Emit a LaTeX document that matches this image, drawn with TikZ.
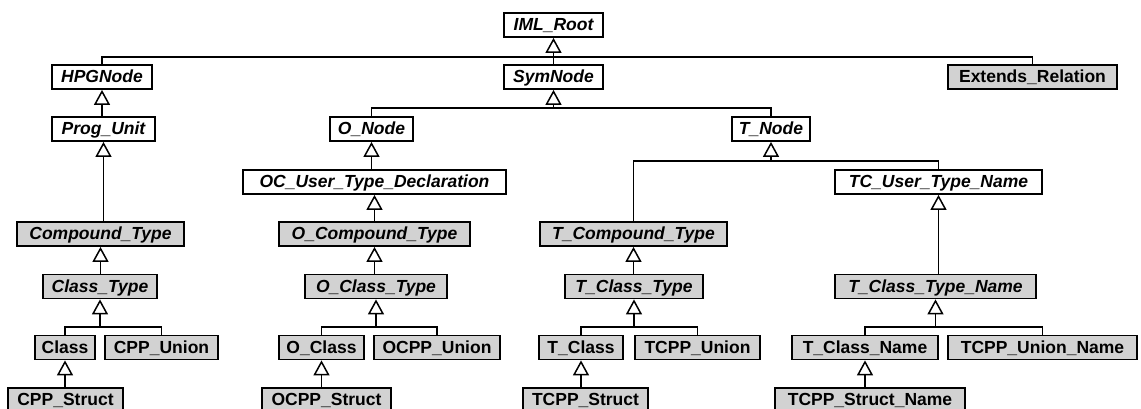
\documentclass[tikz,border=0pt]{standalone}
\usepackage{fontspec}
\setmainfont{Liberation Sans}
\usetikzlibrary{arrows.meta}
\definecolor{boxgray}{RGB}{210,210,210}
\begin{document}
\begin{tikzpicture}[x=1pt, y=-1pt,
  box/.style={draw=black, line width=1.8pt, minimum height=24pt, inner sep=0pt,
              text height=14pt, text depth=2.5pt},
  abs/.style={box, fill=white, font=\fontsize{17.5pt}{20pt}\selectfont\bfseries\itshape},
  con/.style={box, fill=boxgray, font=\fontsize{17.5pt}{20pt}\selectfont\bfseries},
  absg/.style={box, fill=boxgray, font=\fontsize{17.5pt}{20pt}\selectfont\bfseries\itshape},
  link/.style={draw=black, line width=1.5pt},
  inh/.style={link, -{Triangle[width=16pt, length=15pt, fill=white]}}]
\fill[white] (0,0) rectangle (1141,409);
\useasboundingbox (0,0) rectangle (1141,409);

% root and first level
\node[abs, minimum width=99pt]  (iml)  at (553.5,25)  {IML\_Root};
\node[abs, minimum width=100pt] (hpg)  at (102,77)    {HPGNode};
\node[abs, minimum width=99pt]  (sym)  at (553.5,77)  {SymNode};
\node[con, minimum width=169pt] (ext)  at (1032.5,77) {Extends\_Relation};

% second level
\node[abs, minimum width=103pt] (prog)  at (103.5,129) {Prog\_Unit};
\node[abs, minimum width=83pt]  (onode) at (371.5,129) {O\_Node};
\node[abs, minimum width=78pt]  (tnode) at (771,129)   {T\_Node};

% user type declarations
\node[abs, minimum width=263pt] (ocu) at (374.5,182) {OC\_User\_Type\_Declaration};
\node[abs, minimum width=207pt] (tcu) at (938.5,182) {TC\_User\_Type\_Name};

% compound types
\node[absg, minimum width=167pt] (comp)  at (100.5,234) {Compound\_Type};
\node[absg, minimum width=191pt] (ocomp) at (374.5,234) {O\_Compound\_Type};
\node[absg, minimum width=187pt] (tcomp) at (633.5,234) {T\_Compound\_Type};

% class types
\node[absg, minimum width=114pt] (ctype)  at (100,286.5)   {Class\_Type};
\node[absg, minimum width=142pt] (octype) at (376,286.5)   {O\_Class\_Type};
\node[absg, minimum width=138pt] (tctype) at (634,286.5)   {T\_Class\_Type};
\node[absg, minimum width=201pt] (tctn)   at (935.5,286.5) {T\_Class\_Type\_Name};

% concrete classes and unions
\node[con, minimum width=60pt]  (class)  at (65,347.5)     {Class};
\node[con, minimum width=113pt] (cppu)   at (161.5,347.5)  {CPP\_Union};
\node[con, minimum width=85pt]  (oclass) at (321.5,347.5)  {O\_Class};
\node[con, minimum width=126pt] (ocppu)  at (437,347.5)    {OCPP\_Union};
\node[con, minimum width=84pt]  (tclass) at (581,347.5)    {T\_Class};
\node[con, minimum width=125pt] (tcppu)  at (697.5,347.5)  {TCPP\_Union};
\node[con, minimum width=146pt] (tcn)    at (865,347.5)    {T\_Class\_Name};
\node[con, minimum width=189pt] (tcppun) at (1042.5,347.5) {TCPP\_Union\_Name};

% structs
\node[con, minimum width=115pt] (cpps)   at (65.5,400)  {CPP\_Struct};
\node[con, minimum width=129pt] (ocpps)  at (326.5,400) {OCPP\_Struct};
\node[con, minimum width=125pt] (tcpps)  at (585.5,400) {TCPP\_Struct};
\node[con, minimum width=190pt] (tcppsn) at (870,400)   {TCPP\_Struct\_Name};

% junction points of shared generalisation lines
\coordinate (j0) at (553.5,57);
\coordinate (j1) at (553.5,108);
\coordinate (j2) at (100,327);
\coordinate (j3) at (376,327);
\coordinate (j4) at (771,161);
\coordinate (j5) at (634,327);
\coordinate (j6) at (935.5,327);

% IML_Root
\draw[inh] (sym.north) -- (iml.south);
\draw[link] (hpg.north) |- (j0) -| (ext.north);

% SymNode
\draw[inh] (j1) -- (sym.south);
\draw[link] (onode.north) |- (j1) -| (tnode.north);

% HPGNode branch
\draw[inh] (hpg.south |- prog.north) -- (hpg.south);
\draw[inh] (prog.south |- comp.north) -- (prog.south);
\draw[inh] (comp.south |- ctype.north) -- (comp.south);
\draw[inh] (j2) -- (ctype.south);
\draw[link] (class.north) |- (j2) -| (cppu.north);
\draw[inh] (class.south |- cpps.north) -- (class.south);

% O_Node branch
\draw[inh] (onode.south |- ocu.north) -- (onode.south);
\draw[inh] (ocu.south |- ocomp.north) -- (ocu.south);
\draw[inh] (ocomp.south |- octype.north) -- (ocomp.south);
\draw[inh] (j3) -- (octype.south);
\draw[link] (oclass.north) |- (j3) -| (ocppu.north);
\draw[inh] (oclass.south |- ocpps.north) -- (oclass.south);

% T_Node branch
\draw[inh] (j4) -- (tnode.south);
\draw[link] (tcomp.north) |- (j4) -| (tcu.north);
\draw[inh] (tcomp.south |- tctype.north) -- (tcomp.south);
\draw[inh] (j5) -- (tctype.south);
\draw[link] (tclass.north) |- (j5) -| (tcppu.north);
\draw[inh] (tclass.south |- tcpps.north) -- (tclass.south);
\draw[inh] (tcu.south |- tctn.north) -- (tcu.south);
\draw[inh] (j6) -- (tctn.south);
\draw[link] (tcn.north) |- (j6) -| (tcppun.north);
\draw[inh] (tcn.south |- tcppsn.north) -- (tcn.south);
\end{tikzpicture}
\end{document}
